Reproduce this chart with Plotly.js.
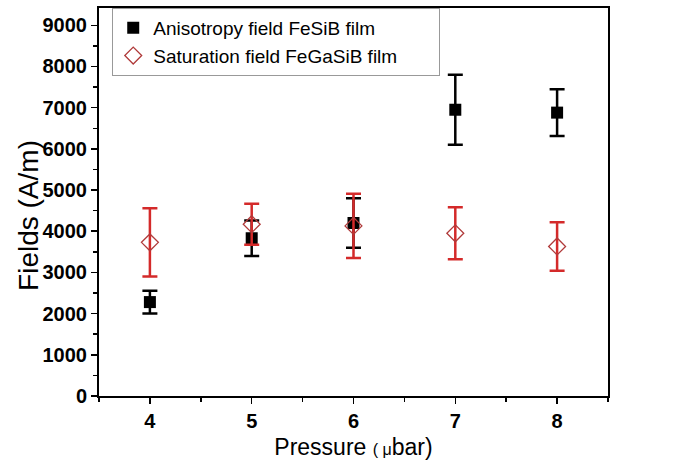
<!DOCTYPE html>
<html>
<head>
<meta charset="utf-8">
<script src="https://cdn.plot.ly/plotly-3.0.1.min.js"></script>
<style>html,body{margin:0;padding:0;background:#fff;}#chart{width:674px;height:465px;}</style>
</head>
<body>
<div id="chart"></div>
<script>
const pressure = [4, 5, 6, 7, 8];
const anisotropyFeSiB = [2280, 3830, 4200, 6950, 6880];
const anisotropyErr = [275, 430, 600, 850, 570];
const saturationFeGaSiB = [3730, 4170, 4130, 3950, 3630];
const saturationErr = [830, 500, 780, 630, 590];

const font = 'Arial, "Liberation Sans", sans-serif';
const pad = '\u00a0'.repeat(7);

const traces = [
  {
    x: pressure, y: anisotropyFeSiB, name: 'Anisotropy field FeSiB film',
    mode: 'markers', type: 'scatter',
    marker: {symbol: 'square', size: 12, color: '#000'},
    error_y: {type: 'data', array: anisotropyErr, visible: true, color: '#000', thickness: 2.5, width: 7.5}
  },
  {
    x: pressure, y: saturationFeGaSiB, name: 'Saturation field FeGaSiB film' + pad,
    mode: 'markers', type: 'scatter',
    marker: {symbol: 'diamond-open', size: 13, color: '#b03a3a', line: {width: 1.3, color: '#b03a3a'}},
    error_y: {type: 'data', array: saturationErr, visible: true, color: '#d42a2a', thickness: 2.5, width: 7.5}
  }
];

const layout = {
  width: 674, height: 465,
  margin: {l: 99, r: 66, t: 8, b: 69},
  paper_bgcolor: '#fff', plot_bgcolor: '#fff',
  font: {family: font, color: '#000'},
  showlegend: true,
  legend: {
    x: 0.026, y: 1.0, xanchor: 'left', yanchor: 'top',
    bordercolor: '#999', borderwidth: 1, bgcolor: '#fff',
    font: {family: font, size: 19, color: '#000'},
    tracegroupgap: 0, itemwidth: 30
  },
  xaxis: {
    range: [3.5, 8.5], tickvals: [4, 5, 6, 7, 8], ticktext: ['4', '5', '6', '7', '8'],
    showgrid: false, zeroline: false,
    showline: true, linecolor: '#000', linewidth: 2, mirror: true,
    ticks: 'outside', ticklen: 6, tickwidth: 1.5, tickcolor: '#000',
    minor: {dtick: 0.5, tick0: 3.5, ticks: 'outside', ticklen: 4, tickwidth: 1.5, tickcolor: '#000'},
    tickfont: {family: font, size: 20, color: '#000', weight: 'bold'},
    title: {text: 'Pressure <span style="font-size:16px">( μ</span>bar)', font: {family: font, size: 23, color: '#000'}, standoff: 8}
  },
  yaxis: {
    range: [0, 9420], tickvals: [0, 1000, 2000, 3000, 4000, 5000, 6000, 7000, 8000, 9000],
    ticktext: ['0', '1000', '2000', '3000', '4000', '5000', '6000', '7000', '8000', '9000'],
    showgrid: false, zeroline: false,
    showline: true, linecolor: '#000', linewidth: 2, mirror: true,
    ticks: 'outside', ticklen: 6, tickwidth: 1.5, tickcolor: '#000',
    minor: {dtick: 500, tick0: 0, ticks: 'outside', ticklen: 4, tickwidth: 1.5, tickcolor: '#000'},
    tickfont: {family: font, size: 20, color: '#000', weight: 'bold'}
  },
  annotations: [{
    text: 'Fields (A/m)', textangle: -90, showarrow: false,
    xref: 'paper', yref: 'paper', x: -0.14, y: 0.466, xanchor: 'center', yanchor: 'middle',
    font: {family: font, size: 28, color: '#000'}
  }]
};

Plotly.newPlot('chart', traces, layout, {displayModeBar: false, staticPlot: true});
</script>
</body>
</html>
